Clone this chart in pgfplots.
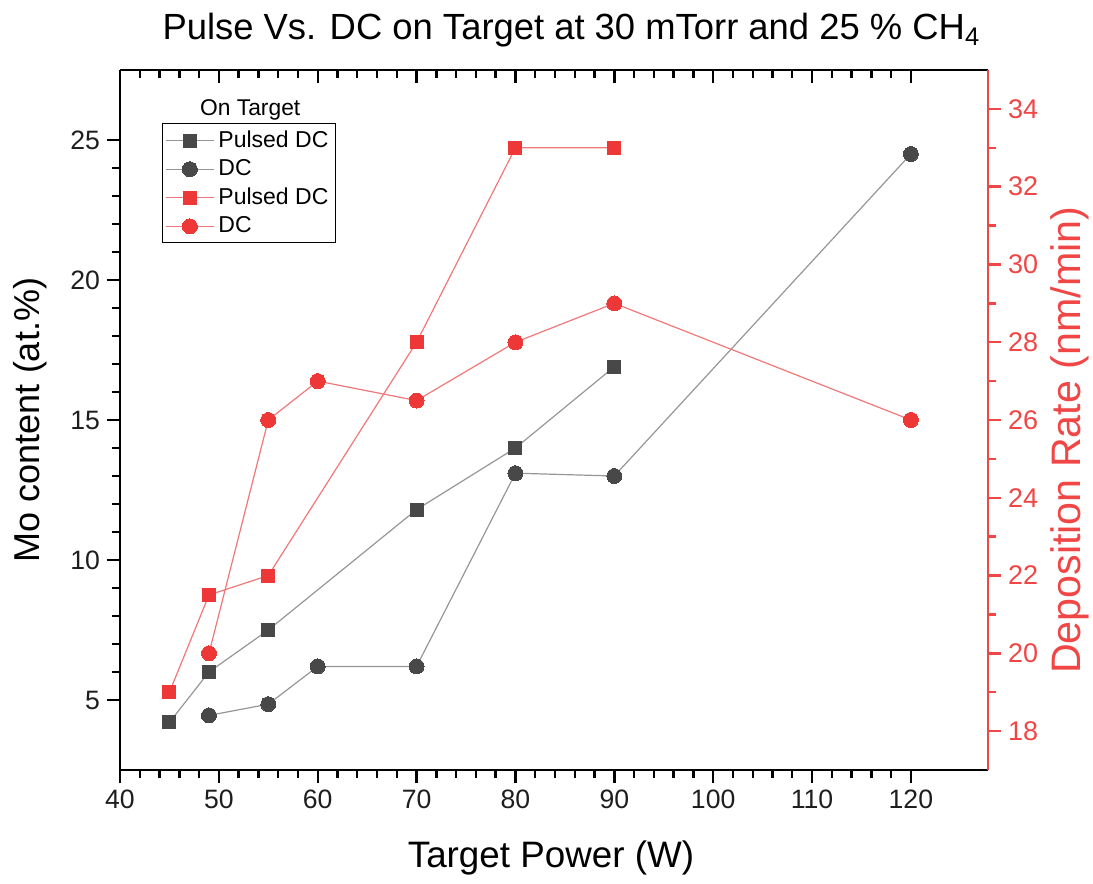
\documentclass[border=0pt]{standalone}
\usepackage{fontspec}
\setmainfont{Liberation Sans}
\usepackage{pgfplots}
\pgfplotsset{compat=1.18}
\definecolor{dgray}{RGB}{72,72,72}
\definecolor{lgray}{RGB}{150,150,150}
\definecolor{myred}{RGB}{238,56,56}
\definecolor{lred}{RGB}{240,120,120}
\definecolor{axred}{RGB}{240,70,70}
\definecolor{tickgray}{RGB}{30,30,30}
\pgfplotsset{
  common/.style={
    scale only axis, width=434pt, height=350pt,
    xmin=40, xmax=127.8,
    /pgf/number format/assume math mode=true,
    tick label style={font=\fontsize{13.3}{15}\selectfont},
    major tick length=6.5pt, minor tick length=4pt,
    axis line style={-, line width=1.2pt},
    every tick/.style={line width=1.2pt},
  },
}
\begin{document}
\begin{tikzpicture}
\begin{axis}[common, name=ax,
  ymin=2.5, ymax=27.5,
  axis x line*=bottom, axis y line*=left,
  tick align=outside,
  xtick={40,50,...,120}, minor x tick num=4,
  ytick={5,10,...,25}, minor y tick num=4,
  every tick/.style={line width=1.2pt, black},
  tick label style={tickgray, font=\fontsize{13.3}{15}\selectfont},
  xlabel={Target Power (W)},
  ylabel={Mo content (at.\%)},
  xlabel style={at={(axis description cs:0.4965,-0.1257)}, anchor=center, font=\fontsize{18.4}{20}\selectfont},
  ylabel style={at={(axis description cs:-0.1037,0.5)}, anchor=center, font=\fontsize{18}{20}\selectfont},
  title={Pulse Vs. DC on Target at 30 mTorr and 25 \% CH\textsubscript{4}},
  every axis title shift=0pt,
  title style={at={(axis description cs:0.52,1.057)}, anchor=center, font=\fontsize{18.2}{20}\selectfont},
  legend style={at={(0.048,0.924)}, anchor=north west, draw=black, line width=0.6pt,
    font=\fontsize{11.5}{13.5}\selectfont, row sep=0.6pt, inner sep=1.5pt},
  legend cell align=left,
  legend image code/.code={\draw[mark repeat=2,mark phase=2,#1] plot coordinates {(0pt,0pt)(12pt,0pt)(24pt,0pt)};},
]
\addplot[lgray, line width=0.6pt, mark=square*, mark size=3.25pt, mark options={draw=dgray, fill=dgray, line width=0pt}]
  coordinates {(45,4.2) (49,6.0) (55,7.5) (70,11.8) (80,14.0) (90,16.9)};
\addlegendentry{Pulsed DC}
\addplot[lgray, line width=0.6pt, mark=*, mark size=3.75pt, mark options={draw=dgray, fill=dgray, line width=0pt}]
  coordinates {(49,4.45) (55,4.85) (60,6.2) (70,6.2) (80,13.1) (90,13.0) (120,24.5)};
\addlegendentry{DC}
\addlegendimage{lred, line width=0.6pt, mark=square*, mark size=3.25pt, mark options={draw=myred, fill=myred, line width=0pt}}
\addlegendentry{Pulsed DC}
\addlegendimage{lred, line width=0.6pt, mark=*, mark size=3.75pt, mark options={draw=myred, fill=myred, line width=0pt}}
\addlegendentry{DC}
\node[font=\fontsize{11.4}{13}\selectfont] at (axis description cs:0.15,0.943) {On Target};
\end{axis}
\begin{axis}[common,
  ymin=2.5, ymax=27.5,
  axis x line*=top, hide y axis,
  tick align=inside,
  xtick={40,50,...,120}, minor x tick num=4,
  xticklabels={},
  every tick/.style={line width=1.2pt, black},
]
\end{axis}
\begin{axis}[common,
  ymin=17, ymax=35,
  axis y line*=right, axis x line=none,
  tick align=outside,
  ytick={18,20,...,34}, minor y tick num=1,
  axis line style={-, line width=1.2pt, axred},
  every tick/.style={line width=1.2pt, axred},
  y tick label style={axred, font=\fontsize{13.5}{15}\selectfont},
  ylabel={Deposition Rate (nm/min)},
  ylabel style={at={(axis description cs:1.0945,0.471)}, anchor=center, rotate=0, axred, font=\fontsize{20.6}{22}\selectfont},
]
\addplot[lred, line width=0.6pt, mark=square*, mark size=3.25pt, mark options={draw=myred, fill=myred, line width=0pt}]
  coordinates {(45,19.0) (49,21.5) (55,22.0) (70,28.0) (80,33.0) (90,33.0)};
\addplot[lred, line width=0.6pt, mark=*, mark size=3.75pt, mark options={draw=myred, fill=myred, line width=0pt}]
  coordinates {(49,20.0) (55,26.0) (60,27.0) (70,26.5) (80,28.0) (90,29.0) (120,26.0)};
\end{axis}
\pgfresetboundingbox
\path ([shift={(-60pt,-57pt)}]ax.south west) rectangle ([shift={(52.5pt,35pt)}]ax.north east);
\end{tikzpicture}
\end{document}
